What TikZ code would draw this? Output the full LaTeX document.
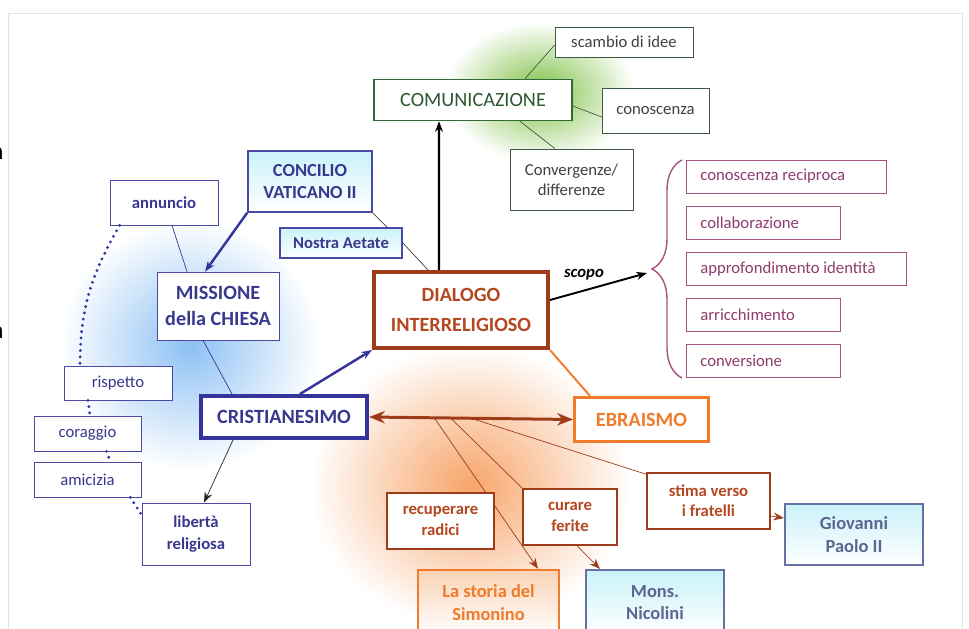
\documentclass[tikz,border=0pt]{standalone}
\usepackage{fontspec}
\setmainfont{Carlito}
\usepackage{xcolor}
\usepackage{tikz}
\usetikzlibrary{arrows.meta, positioning, calc, backgrounds, fadings, decorations.pathreplacing}
\definecolor{framegray}{HTML}{E4E4E4}
\definecolor{greenline}{HTML}{2F6A38}
\definecolor{greentext}{HTML}{2C5832}
\definecolor{greyline}{HTML}{3F5A44}
\definecolor{glowgreen}{HTML}{7DC043}
\definecolor{glowblue}{HTML}{8CC0F4}
\definecolor{gloworange}{HTML}{F7A56A}
\definecolor{blueline}{HTML}{4A4AA6}
\definecolor{bluetext}{HTML}{38388E}
\definecolor{bluedark}{HTML}{34349A}
\definecolor{cyanfill}{HTML}{C9F2F9}
\definecolor{brownline}{HTML}{9E3C1A}
\definecolor{browntext}{HTML}{B4471F}
\definecolor{orangeline}{HTML}{F07B2B}
\definecolor{orangefill}{HTML}{FAD3B4}
\definecolor{purpleline}{HTML}{A65283}
\definecolor{purpletext}{HTML}{8E3C6C}
\definecolor{slateline}{HTML}{6670A2}
\definecolor{slatetext}{HTML}{5A6690}

\tikzfading[name=glowfade, inner color=transparent!0, outer color=transparent!100]

\begin{document}
\begin{tikzpicture}[
    x=0.02cm, y=-0.02cm,
    >={Stealth[length=6pt]},
    mapbox/.style={draw=#1, fill=white, align=center, inner sep=2pt},
    gbox/.style={mapbox=greyline, text=black!75, font=\fontsize{9.5}{11.5}\selectfont},
    bluebox/.style={mapbox=blueline, text=bluetext, font=\bfseries\fontsize{9.5}{12}\selectfont},
    cyanbox/.style={bluebox, top color=cyanfill, bottom color=white, line width=1pt},
    rbox/.style={mapbox=brownline, text=browntext, line width=0.8pt, font=\bfseries\fontsize{9.5}{11.5}\selectfont},
    pbox/.style={mapbox=purpleline, text=purpletext, anchor=west, align=flush left, minimum height=0.66cm, inner xsep=0.28cm, text width=#1, font=\fontsize{9.5}{11.5}\selectfont},
    slatebox/.style={mapbox=slateline, line width=1.2pt, top color=cyanfill, bottom color=white, text=slatetext, font=\bfseries\fontsize{10.5}{13}\selectfont},
    dots/.style={bluedark, line width=1.8pt, line cap=round, dash pattern=on 0pt off 3.6pt},
]
    \useasboundingbox (0,0) rectangle (969,628);
    \clip (0,0) rectangle (969,628);

    % glows
    \begin{scope}[on background layer]
        \fill[glowblue, path fading=glowfade] (190,345) ellipse (2.6cm and 2.5cm);
        \fill[gloworange, path fading=glowfade] (470,485) ellipse (3.2cm and 2.8cm);
        \fill[glowgreen, path fading=glowfade] (540,92) ellipse (1.9cm and 1.4cm);
    \end{scope}

    \draw[framegray] (8,13) rectangle (962,700);
    \node[anchor=east, inner sep=0, font=\fontsize{14}{16}\selectfont] (cutA) at (4,154) {n};
    \node[anchor=east, inner sep=0, font=\fontsize{14}{16}\selectfont] (cutB) at (4,333) {n};

    \node[mapbox=greenline, text=greentext, line width=0.9pt, minimum width=3.96cm, minimum height=0.82cm, font=\fontsize{11.5}{14}\selectfont] (comm) at (473,100) {COMUNICAZIONE};
    \node[gbox, minimum width=2.76cm, minimum height=0.6cm] (scambio) at (624,42) {scambio di idee};
    \node[gbox, minimum width=2.14cm, minimum height=0.9cm] (conosc) at (655.5,110.5) {conoscenza};
    \node[gbox, minimum width=2.46cm, minimum height=1.22cm] (converg) at (571.5,179.5) {Convergenze/\\differenze};

    \node[mapbox=brownline, text=browntext, line width=2.3pt, minimum width=3.48cm, minimum height=1.52cm, font=\bfseries\fontsize{11.5}{17}\selectfont] (dialogo) at (461,310) {DIALOGO\\INTERRELIGIOSO};
    \node[cyanbox, minimum width=2.48cm, minimum height=1.22cm, font=\bfseries\fontsize{10.5}{12}\selectfont] (concilio) at (310,181.5) {CONCILIO\\VATICANO II};
    \node[cyanbox, minimum width=2.44cm, minimum height=0.6cm] (nostra) at (341,243) {Nostra Aetate};
    \node[bluebox, minimum width=2.16cm, minimum height=0.9cm] (annuncio) at (164,202.5) {annuncio};
    \node[bluebox, minimum width=2.44cm, minimum height=1.36cm, font=\bfseries\fontsize{11.5}{15}\selectfont] (missione) at (218,306) {MISSIONE\\della CHIESA};
    \node[mapbox=bluedark, text=bluetext, line width=2.3pt, minimum width=3.32cm, minimum height=0.84cm, font=\bfseries\fontsize{11.5}{14}\selectfont] (cristian) at (284,417) {CRISTIANESIMO};
    \node[mapbox=orangeline, text=orangeline, line width=1.7pt, minimum width=2.68cm, minimum height=0.88cm, font=\bfseries\fontsize{11.5}{14}\selectfont] (ebraismo) at (641.5,419.5) {EBRAISMO};

    % scopo
    \node[pbox=3.44cm] (reciproca) at (686,176.5) {conoscenza reciproca};
    \node[pbox=2.52cm] (collab) at (686,222.5) {collaborazione};
    \node[pbox=3.84cm] (approf) at (686,269) {approfondimento identità};
    \node[pbox=2.52cm] (arricch) at (686,315) {arricchimento};
    \node[pbox=2.52cm] (conversione) at (686,361) {conversione};
    \coordinate (bracetip) at (647,273);

    \node[bluebox, minimum width=2.16cm, minimum height=0.68cm, font=\fontsize{9.5}{11.5}\selectfont] (rispetto) at (118,383) {rispetto};
    \node[bluebox, minimum width=2.14cm, minimum height=0.7cm, font=\fontsize{9.5}{11.5}\selectfont] (coraggio) at (87.5,433.5) {coraggio};
    \node[bluebox, minimum width=2.14cm, minimum height=0.7cm, font=\fontsize{9.5}{11.5}\selectfont] (amicizia) at (87.5,479.5) {amicizia};
    \node[bluebox, minimum width=2.16cm, minimum height=1.24cm, font=\bfseries\fontsize{9.5}{12.5}\selectfont] (liberta) at (196,534) {libertà\\religiosa};

    \node[rbox, minimum width=2.14cm, minimum height=1.12cm] (recup) at (440.5,521) {recuperare\\radici};
    \node[rbox, minimum width=1.88cm, minimum height=1.12cm] (curare) at (570,517) {curare\\ferite};
    \node[rbox, minimum width=2.46cm, minimum height=1.12cm] (stima) at (708.5,501) {stima verso\\i fratelli};
    \node[mapbox=orangeline, line width=1.4pt, top color=orangefill, bottom color=white, text=orangeline, minimum width=2.82cm, minimum height=1.3cm, font=\bfseries\fontsize{10.5}{13}\selectfont] (storia) at (488.5,602.5) {La storia del\\Simonino};
    \node[slatebox, minimum width=2.76cm, minimum height=1.3cm] (mons) at (655,602.5) {Mons.\\Nicolini};
    \node[slatebox, minimum width=2.76cm, minimum height=1.22cm] (giovanni) at (854,534.5) {Giovanni\\Paolo II};

    \draw[->, line width=1.4pt] ([xshift=-0.44cm]dialogo.north) -- ([xshift=-0.68cm]comm.south);
    \draw[greyline] ([xshift=1.04cm]comm.north) -- ([yshift=-0.06cm]scambio.west);
    \draw[greyline] ([yshift=-0.12cm]comm.east) -- ([yshift=-0.13cm]conosc.west);
    \draw[greyline] ([xshift=0.94cm]comm.south) -- ([xshift=-0.33cm]converg.north);

    \draw[black!75] (concilio.south east) -- ([xshift=0.92cm]nostra.north);
    \draw[black!75] (nostra.east) -- ([xshift=-0.66cm]dialogo.north);
    \draw[->, bluedark, line width=1.4pt] (concilio.south west) -- ([xshift=-0.26cm]missione.north);
    \draw[bluetext] ([xshift=0.16cm]annuncio.south) -- ([xshift=-0.62cm]missione.north);
    \draw[bluetext] ([xshift=-0.3cm]missione.south) -- ([xshift=-1.04cm]cristian.north);
    \draw[->, bluedark, line width=1.4pt] ([xshift=0.32cm]cristian.north) -- (dialogo.south west);
    \draw[{Stealth[length=9pt, width=7pt]}-{Stealth[length=9pt, width=7pt]}, brownline, line width=1.7pt] (cristian.east) -- (ebraismo.west);
    \draw[orangeline, line width=1.1pt] (dialogo.south east) -- ([xshift=-1.03cm]ebraismo.north);

    \draw[->, line width=1.1pt] ([yshift=0.2cm]dialogo.east) -- node[above=2pt, pos=0.35, font=\bfseries\itshape\fontsize{9.5}{11}\selectfont] (scopolbl) {scopo} (bracetip);
    \draw[decorate, decoration={brace, amplitude=0.6cm}, purpleline, line width=0.8pt] (682,378) -- (682,160);

    \draw[->, black!85] ([xshift=-1.02cm]cristian.south) -- ([xshift=0.16cm]liberta.north);
    \draw[dots] ([xshift=0.2cm]annuncio.south west) to[out=-120, in=90] ([xshift=-0.76cm]rispetto.north);
    \draw[dots] ([xshift=-0.6cm]rispetto.south) -- ([xshift=0.05cm]coraggio.north);
    \draw[dots] ([xshift=0.38cm]coraggio.south) -- ([xshift=0.46cm]amicizia.north);
    \draw[dots] ([xshift=-0.22cm]amicizia.south east) -- ([yshift=0.38cm]liberta.west);

    \path (cristian.east) -- (ebraismo.west) coordinate[pos=0.32] (fork1) coordinate[pos=0.40] (fork2) coordinate[pos=0.50] (fork3);
    \begin{scope}[on background layer]
        \draw[->, brownline] (fork1) -- ([xshift=0.99cm]storia.north);
        \draw[brownline] (fork2) -- (curare.north west);
        \draw[brownline] (fork3) -- ([yshift=-0.04cm]stima.north west);
    \end{scope}
    \draw[->, brownline] ([xshift=0.14cm]curare.south) -- ([xshift=-1.1cm]mons.north);
    \draw[->, brownline] ([yshift=-0.3cm]stima.east) -- ([yshift=0.33cm]giovanni.west);
\end{tikzpicture}
\end{document}
